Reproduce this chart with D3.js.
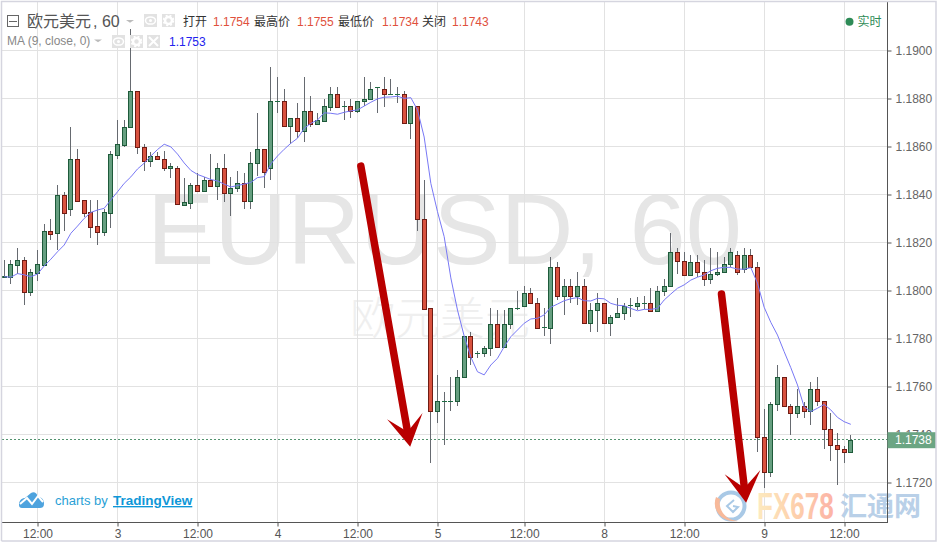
<!DOCTYPE html>
<html><head><meta charset="utf-8">
<style>html,body{margin:0;padding:0;background:#fff;overflow:hidden}svg{display:block}text{font-family:"Liberation Sans",Arial,sans-serif}</style>
<script src="https://d3js.org/d3.v7.min.js"></script></head><body><svg id="c" width="938" height="542"></svg>
<script>
const opens=[1.18056,1.18057,1.18107,1.18125,1.17995,1.18074,1.18107,1.18246,1.18238,1.18396,1.18338,1.18546,1.18375,1.18325,1.18267,1.18245,1.18324,1.18565,1.18607,1.18680,1.18830,1.18596,1.18538,1.18559,1.18546,1.18509,1.18509,1.18357,1.18365,1.18438,1.18415,1.18462,1.18436,1.18509,1.18407,1.18425,1.18446,1.18374,1.18530,1.18588,1.18508,1.18788,1.18788,1.18686,1.18717,1.18665,1.18746,1.18695,1.18707,1.18765,1.18817,1.18767,1.18767,1.18746,1.18788,1.18796,1.18844,1.18838,1.18817,1.18817,1.18817,1.18696,1.18767,1.18296,1.17926,1.17496,1.17538,1.17538,1.17538,1.17638,1.17810,1.17738,1.17738,1.17759,1.17859,1.17765,1.17859,1.17925,1.17936,1.17988,1.17946,1.17845,1.17845,1.18096,1.17975,1.18017,1.17975,1.18017,1.17865,1.17917,1.17946,1.17865,1.17888,1.17907,1.17937,1.17937,1.17946,1.17946,1.17915,1.17996,1.18017,1.18159,1.18124,1.18065,1.18117,1.18075,1.18046,1.18067,1.18075,1.18109,1.18146,1.18088,1.18146,1.18096,1.17388,1.17245,1.17525,1.17638,1.17517,1.17488,1.17517,1.17496,1.17588,1.17538,1.17424,1.17355,1.17338,1.17325];
const closes=[1.18058,1.18109,1.18125,1.17995,1.18075,1.18109,1.18246,1.18236,1.18396,1.18324,1.18546,1.18374,1.18324,1.18265,1.18245,1.18325,1.18567,1.18609,1.18680,1.18830,1.18596,1.18538,1.18559,1.18546,1.18509,1.18517,1.18359,1.18367,1.18438,1.18415,1.18460,1.18436,1.18509,1.18407,1.18425,1.18446,1.18374,1.18530,1.18588,1.18495,1.18788,1.18788,1.18686,1.18717,1.18665,1.18746,1.18695,1.18709,1.18767,1.18817,1.18765,1.18767,1.18746,1.18788,1.18796,1.18838,1.18844,1.18817,1.18817,1.18817,1.18696,1.18767,1.18296,1.17923,1.17496,1.17538,1.17538,1.17538,1.17638,1.17810,1.17724,1.17738,1.17759,1.17859,1.17765,1.17859,1.17925,1.17925,1.17988,1.17946,1.17845,1.17845,1.18096,1.17975,1.18017,1.17975,1.18017,1.17865,1.17917,1.17946,1.17865,1.17888,1.17907,1.17937,1.17937,1.17946,1.17946,1.17915,1.17996,1.18017,1.18159,1.18124,1.18065,1.18117,1.18075,1.18046,1.18067,1.18075,1.18109,1.18159,1.18075,1.18146,1.18096,1.17388,1.17245,1.17525,1.17638,1.17517,1.17488,1.17517,1.17496,1.17588,1.17538,1.17424,1.17355,1.17338,1.17325,1.17377];
const highs=[1.18127,1.18127,1.18175,1.18138,1.18088,1.18168,1.18277,1.18298,1.18439,1.18410,1.18681,1.18589,1.18377,1.18377,1.18377,1.18338,1.18582,1.18710,1.18710,1.19088,1.18831,1.18609,1.18578,1.18578,1.18581,1.18530,1.18518,1.18468,1.18448,1.18489,1.18474,1.18568,1.18530,1.18568,1.18473,1.18499,1.18489,1.18578,1.18738,1.18589,1.18930,1.18888,1.18838,1.18718,1.18780,1.18888,1.18810,1.18738,1.18796,1.18846,1.18846,1.18789,1.18796,1.18788,1.18888,1.18868,1.18846,1.18888,1.18880,1.18846,1.18830,1.18767,1.18767,1.18460,1.17927,1.17648,1.17577,1.17639,1.17668,1.17810,1.17827,1.17749,1.17768,1.17925,1.17918,1.17918,1.17925,1.17998,1.18018,1.18009,1.17967,1.17925,1.18138,1.18117,1.18046,1.18046,1.18077,1.18046,1.17946,1.17988,1.17947,1.17898,1.17967,1.17946,1.17967,1.17971,1.17977,1.18009,1.18018,1.18046,1.18238,1.18175,1.18159,1.18148,1.18148,1.18127,1.18175,1.18159,1.18138,1.18175,1.18164,1.18175,1.18171,1.18117,1.17505,1.17536,1.17689,1.17638,1.17527,1.17589,1.17536,1.17617,1.17638,1.17538,1.17488,1.17405,1.17353,1.17398];
const lows=[1.18052,1.18027,1.18068,1.17939,1.17977,1.18040,1.18106,1.18210,1.18168,1.18249,1.18310,1.18372,1.18306,1.18220,1.18189,1.18228,1.18261,1.18548,1.18599,1.18680,1.18568,1.18498,1.18514,1.18543,1.18499,1.18468,1.18359,1.18357,1.18340,1.18414,1.18414,1.18435,1.18377,1.18370,1.18311,1.18410,1.18340,1.18340,1.18477,1.18428,1.18460,1.18740,1.18682,1.18609,1.18634,1.18620,1.18680,1.18689,1.18707,1.18748,1.18763,1.18710,1.18717,1.18740,1.18768,1.18793,1.18740,1.18763,1.18813,1.18782,1.18696,1.18631,1.18249,1.17923,1.17280,1.17449,1.17356,1.17499,1.17520,1.17638,1.17689,1.17717,1.17721,1.17728,1.17765,1.17765,1.17839,1.17918,1.17930,1.17943,1.17842,1.17811,1.17777,1.17960,1.17898,1.17949,1.17939,1.17860,1.17828,1.17828,1.17863,1.17811,1.17888,1.17877,1.17890,1.17918,1.17921,1.17911,1.17915,1.17977,1.18015,1.18068,1.18064,1.18064,1.18055,1.18020,1.18027,1.18061,1.18071,1.18099,1.18064,1.18071,1.18092,1.17328,1.17177,1.17221,1.17499,1.17517,1.17398,1.17467,1.17467,1.17439,1.17518,1.17338,1.17290,1.17189,1.17280,1.17325];
const ma9=[1.18057,1.18055,1.18070,1.18065,1.18057,1.18068,1.18102,1.18130,1.18161,1.18189,1.18238,1.18268,1.18300,1.18325,1.18335,1.18342,1.18377,1.18411,1.18446,1.18473,1.18506,1.18530,1.18560,1.18587,1.18609,1.18598,1.18568,1.18531,1.18500,1.18483,1.18473,1.18462,1.18456,1.18443,1.18431,1.18437,1.18443,1.18450,1.18470,1.18474,1.18527,1.18560,1.18588,1.18613,1.18634,1.18675,1.18696,1.18710,1.18740,1.18738,1.18734,1.18742,1.18748,1.18752,1.18768,1.18784,1.18798,1.18805,1.18806,1.18809,1.18800,1.18803,1.18752,1.18639,1.18446,1.18328,1.18224,1.18052,1.17918,1.17810,1.17722,1.17661,1.17648,1.17689,1.17717,1.17765,1.17807,1.17835,1.17863,1.17881,1.17884,1.17898,1.17930,1.17943,1.17957,1.17965,1.17970,1.17957,1.17956,1.17967,1.17965,1.17946,1.17938,1.17936,1.17925,1.17915,1.17921,1.17921,1.17925,1.17960,1.17985,1.18009,1.18023,1.18043,1.18055,1.18064,1.18082,1.18092,1.18096,1.18096,1.18089,1.18088,1.18095,1.18030,1.17930,1.17867,1.17814,1.17745,1.17678,1.17606,1.17515,1.17495,1.17509,1.17525,1.17502,1.17471,1.17453,1.17442];
const xTickIndex=[5,17,29,41,53,65,78,90,102,114,126];
const xTickLabels=["12:00","3","12:00","4","12:00","5","12:00","8","12:00","9","12:00"];
const yTicks=[1.1720,1.1740,1.1760,1.1780,1.1800,1.1820,1.1840,1.1860,1.1880,1.1900];
const lastPrice=1.1738;
const arrowStart=[[53.5,1.18518],[107.6,1.17985]];
const arrowTip=[[60.9,1.17349],[111.3,1.17115]];

const svg=d3.select("#c");
const W=938,H=542,axisX=887.5,axisY=522.5;
const x=d3.scaleLinear().domain([0,127]).range([4.2,850.8]);
const y=d3.scaleLinear().domain([1.19,1.172]).range([50.4,482.4]);
const snap=v=>Math.floor(v)+.5;

const defs=svg.append("defs");
const grad=defs.append("linearGradient").attr("id","fxg").attr("x1",0).attr("x2",1).attr("y1",0).attr("y2",0);
grad.append("stop").attr("offset",0).attr("stop-color","#fdeabf");
grad.append("stop").attr("offset",.5).attr("stop-color","#fdd0ac");
grad.append("stop").attr("offset",1).attr("stop-color","#fcb3a6");

svg.append("rect").attr("width",W).attr("height",H).attr("fill","#fff");
// watermarks
svg.append("text").attr("x",147).attr("y",264).attr("font-size",101).attr("fill","#e6e6e6").text("EURUSD, 60");
svg.append("text").attr("x",350).attr("y",335).attr("font-size",45).attr("fill","#efefef").style("font-family",'"Noto Sans CJK SC"').style("font-weight",300).text("欧元美元");

// grid
const grid=svg.append("g").attr("stroke","#e2e2e2").attr("stroke-width",1);
grid.selectAll(".v").data(xTickIndex).join("line").attr("x1",d=>snap(x(d))).attr("x2",d=>snap(x(d))).attr("y1",2).attr("y2",axisY);
grid.selectAll(".h").data(yTicks).join("line").attr("x1",2).attr("x2",axisX).attr("y1",d=>snap(y(d))).attr("y2",d=>snap(y(d)));

// FX678 logo
const logo=svg.append("g");
logo.append("circle").attr("cx",731).attr("cy",506).attr("r",13.5).attr("fill","none").attr("stroke","#a9c9e6").attr("stroke-width",4);
logo.append("path").attr("d","M716 497 C711 510 722 523 738 521 C726 520 718 511 720 499 Z").attr("fill","#f7b99a");
logo.append("path").attr("d","M734 500 L727 506 L733 512 L738 507 L733 506").attr("fill","none").attr("stroke","#a9c9e6").attr("stroke-width",2);
svg.append("text").attr("transform","translate(757,519) scale(1,1.4)").attr("font-size",26).attr("font-weight",700).attr("fill","url(#fxg)").text("FX678");
svg.append("text").attr("x",840).attr("y",516).attr("font-size",27).attr("font-weight",700).attr("fill","#b9d0e8").style("font-family",'"Noto Sans CJK SC"').text("汇通网");

// last price dotted line
svg.append("line").attr("x1",2).attr("x2",axisX).attr("y1",snap(y(lastPrice))).attr("y2",snap(y(lastPrice))).attr("stroke","#53936f").attr("stroke-dasharray","2 2");

// candles
const idx=d3.range(opens.length);
const isUp=i=>closes[i]>=opens[i];
const gC=svg.append("g");
gC.selectAll("line.w").data(idx).join("line").attr("x1",i=>snap(x(i))).attr("x2",i=>snap(x(i))).attr("y1",i=>Math.round(y(highs[i]))).attr("y2",i=>Math.round(y(lows[i]))).attr("stroke","#666a70");
gC.selectAll("rect.b").data(idx.filter(i=>opens[i]!==closes[i])).join("rect")
 .attr("x",i=>snap(x(i))-2).attr("width",4)
 .attr("y",i=>Math.round(y(Math.max(opens[i],closes[i])))+.5)
 .attr("height",i=>Math.max(1,Math.round(y(Math.min(opens[i],closes[i])))-Math.round(y(Math.max(opens[i],closes[i])))))
 .attr("fill",i=>isUp(i)?"#669f80":"#d9523f").attr("stroke",i=>isUp(i)?"#1e5a3a":"#6f1c14");
gC.selectAll("line.d").data(idx.filter(i=>opens[i]===closes[i])).join("line")
 .attr("x1",i=>snap(x(i))-2.5).attr("x2",i=>snap(x(i))+2.5).attr("y1",i=>snap(y(opens[i]))).attr("y2",i=>snap(y(opens[i]))).attr("stroke","#1e6a42");

// MA
svg.append("path").attr("d",d3.line().x((d,i)=>x(i)).y(d=>y(d)).curve(d3.curveLinear)(ma9)).attr("fill","none").attr("stroke","#7878f5").attr("stroke-width",1);

// arrows
arrowStart.forEach((s,k)=>{
 const ax=x(s[0]),ay=y(s[1]),bx=x(arrowTip[k][0]),by=y(arrowTip[k][1]);
 const L=Math.hypot(bx-ax,by-ay),ux=(bx-ax)/L,uy=(by-ay)/L,px=uy,py=-ux;
 const P=(al,pe)=>[bx+ux*al+px*pe,by+uy*al+py*pe];
 const g=svg.append("g").attr("fill","#b90000");
 g.append("line").attr("x1",ax).attr("y1",ay).attr("x2",bx-ux*14).attr("y2",by-uy*14).attr("stroke","#b90000").attr("stroke-width",7.5).attr("stroke-linecap","round");
 g.append("path").attr("d","M"+[P(0,0),P(-31,-18),P(-15,0),P(-31,18)].map(p=>p.join(",")).join("L")+"Z");
});

// axes
svg.append("line").attr("x1",axisX).attr("x2",axisX).attr("y1",2).attr("y2",axisY+.5).attr("stroke","#555");
svg.append("line").attr("x1",2).attr("x2",axisX).attr("y1",axisY).attr("y2",axisY).attr("stroke","#555");
const yAxis=d3.axisRight(y).tickValues(yTicks).tickFormat(d3.format(".4f")).tickSize(4).tickPadding(4);
const gy=svg.append("g").attr("transform",`translate(${axisX},0)`).call(yAxis);
gy.select(".domain").remove();
gy.selectAll("line").attr("stroke","#555").attr("transform",d=>`translate(0,${snap(y(d))-y(d)})`);
gy.selectAll("text").attr("font-size",12).attr("fill","#666").attr("font-family",null);
const xAxis=d3.axisBottom(x).tickValues(xTickIndex).tickFormat((d,i)=>xTickLabels[i]).tickSize(4).tickPadding(3);
const gx=svg.append("g").attr("transform",`translate(0,${axisY})`).call(xAxis);
gx.select(".domain").remove();
gx.selectAll("line").attr("stroke","#555").attr("transform",d=>`translate(${snap(x(d))-x(d)},0)`);
gx.selectAll("text").attr("font-size",12).attr("fill","#555").attr("font-family",null);

// last price box
svg.append("rect").attr("x",axisX).attr("y",y(lastPrice)-7).attr("width",48.5).attr("height",16).attr("fill","#6ba583");
svg.append("text").attr("x",895).attr("y",y(lastPrice)+5).attr("font-size",12).attr("fill","#fff").text(d3.format(".4f")(lastPrice));

// border
svg.append("path").attr("d","M1.5 541 V1.5 H936 V541 H1.5").attr("fill","none").attr("stroke","#d5d5df").attr("stroke-width",1.5);

// header
const hdr=svg.append("g");
hdr.append("rect").attr("x",7.5).attr("y",15.5).attr("width",11).attr("height",11).attr("fill","none").attr("stroke","#666");
hdr.append("line").attr("x1",9).attr("x2",17).attr("y1",21.5).attr("y2",21.5).attr("stroke","#666");
hdr.append("text").attr("x",27).attr("y",27).attr("font-size",16).attr("fill","#555").style("font-family",'"Noto Sans CJK SC"').text("欧元美元");
hdr.append("text").attr("x",93).attr("y",27).attr("font-size",16).attr("fill","#555").text(", 60");
const tri=(cx,cy,w,c)=>hdr.append("path").attr("d",`M${cx-w} ${cy} h${2*w} l${-w} ${w*.7} z`).attr("fill",c);
tri(130,20,4,"#bbb"); tri(98,39.5,4,"#bbb");
function icon(ix,iy,type){
 hdr.append("rect").attr("x",ix).attr("y",iy).attr("width",13).attr("height",13).attr("fill","#e2e2e2");
 const cx=ix+6.5,cy=iy+6.5;
 if(type==="eye"){hdr.append("ellipse").attr("cx",cx).attr("cy",cy).attr("rx",5).attr("ry",3.6).attr("fill","none").attr("stroke","#fff").attr("stroke-width",1.5);hdr.append("circle").attr("cx",cx).attr("cy",cy).attr("r",1.5).attr("fill","#fff");}
 if(type==="gear"){hdr.append("circle").attr("cx",cx).attr("cy",cy).attr("r",3.5).attr("fill","none").attr("stroke","#fff").attr("stroke-width",2.5);hdr.append("circle").attr("cx",cx).attr("cy",cy).attr("r",5).attr("fill","none").attr("stroke","#fff").attr("stroke-width",1.5).attr("stroke-dasharray","2 2");}
 if(type==="x"){hdr.append("path").attr("d",`M${cx-4.5} ${cy-4.5}L${cx+4.5} ${cy+4.5}M${cx+4.5} ${cy-4.5}L${cx-4.5} ${cy+4.5}`).attr("stroke","#fff").attr("stroke-width",2);}
}
icon(144,14,"eye");icon(162,14,"gear");icon(112,35,"eye");icon(130,35,"gear");icon(147,35,"x");
const hl=[["打开",183,"#333"],["1.1754",213,"#e0503c"],["最高价",254,"#333"],["1.1755",297,"#e0503c"],["最低价",338,"#333"],["1.1734",382,"#e0503c"],["关闭",422,"#333"],["1.1743",452,"#e0503c"]];
hl.forEach(t=>hdr.append("text").attr("x",t[1]).attr("y",26).attr("font-size",12).attr("fill",t[2]).style("font-family",/^\d/.test(t[0])?null:'"Noto Sans CJK SC"').text(t[0]));
hdr.append("text").attr("x",7).attr("y",45).attr("font-size",12).attr("fill","#888").text("MA (9, close, 0)");
hdr.append("text").attr("x",169).attr("y",46).attr("font-size",12).attr("fill","#2222ee").text("1.1753");
hdr.append("circle").attr("cx",849.5).attr("cy",21.7).attr("r",4).attr("fill","#2e8b57");
hdr.append("text").attr("x",857.5).attr("y",26).attr("font-size",12).attr("fill","#2e8b57").style("font-family",'"Noto Sans CJK SC"').text("实时");

// TradingView badge
const tv=svg.append("g");
tv.append("path").attr("d","M19 505 C19 499 23 498 25 498 L31 493 C34 491 37 493 38 497 C42 497 44 500 44 504 C44 507 42 508 40 508 L22 508 C20 508 19 507 19 505 Z").attr("fill","#4ea3de");
tv.append("path").attr("d","M20 504 L27 498 L32 504 L38 496 L43 502").attr("fill","none").attr("stroke","#fff").attr("stroke-width",2);
tv.append("text").attr("x",55).attr("y",505).attr("font-size",13).attr("fill","#2a9fd6").text("charts by");
tv.append("text").attr("x",113).attr("y",505).attr("font-size",13.5).attr("font-weight",700).attr("fill","#0e97d8").attr("text-decoration","underline").text("TradingView");
</script></body></html>
